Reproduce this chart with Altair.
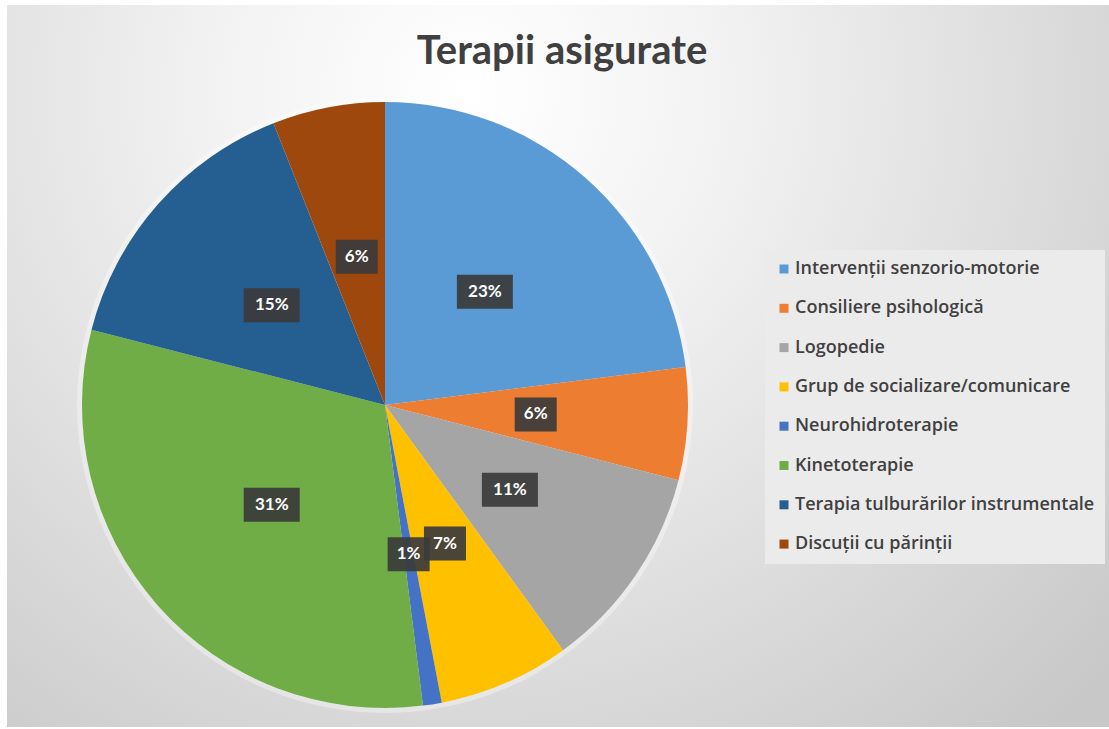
import altair as alt
import pandas as pd

categories = [
    "Intervenții senzorio-motorie",
    "Consiliere psihologică",
    "Logopedie",
    "Grup de socializare/comunicare",
    "Neurohidroterapie",
    "Kinetoterapie",
    "Terapia tulburărilor instrumentale",
    "Discuții cu părinții",
]
values = [23, 6, 11, 7, 1, 31, 15, 6]
colors = ["#5B9BD5", "#ED7D31", "#A5A5A5", "#FFC000", "#4472C4", "#70AD47", "#255E91", "#9E480E"]
title_text = "Terapii asigurate"

df = pd.DataFrame({"cat": categories, "v": values, "idx": list(range(len(values)))})

W, H = 1109, 729
CX, CY, R = 385, 405, 303
LR = 151

bg = alt.Chart(pd.DataFrame({"a": [0]})).mark_rect(
    fill=alt.RadialGradient(
        gradient="radial",
        x1=0.42, y1=0.25, r1=0.0,
        x2=0.42, y2=0.25, r2=0.78,
        stops=[alt.GradientStop(color="#ffffff", offset=0.0),
               alt.GradientStop(color="#f2f2f2", offset=0.3),
               alt.GradientStop(color="#c8c8c8", offset=1.0)],
    )
).encode(x=alt.value(7), x2=alt.value(W), y=alt.value(5), y2=alt.value(727))

glow = alt.Chart(pd.DataFrame({"a": [0]})).mark_arc(
    theta=0, theta2=6.2832, outerRadius=R + 5, color="white", opacity=0.35
).encode(x=alt.value(CX), y=alt.value(CY))

base = alt.Chart(df)

pie = base.mark_arc(outerRadius=R).encode(
    theta=alt.Theta("v:Q", stack=True),
    order=alt.Order("idx:Q"),
    color=alt.Color(
        "cat:N",
        scale=alt.Scale(domain=categories, range=colors),
        sort=categories,
        legend=alt.Legend(
            title=None,
            orient="none",
            legendX=765,
            legendY=250,
            padding=10,
            fillColor="#ebebeb",
            symbolType="square",
            symbolSize=81,
            symbolStrokeWidth=0,
            labelFont="Open Sans",
            labelFontWeight=600,
            labelFontSize=18,
            labelColor="#404040",
            labelLimit=400,
            rowPadding=21.3,
            symbolOffset=0,
            labelOffset=2,
        ),
    ),
    x=alt.value(CX),
    y=alt.value(CY),
)

pos = base.transform_window(
    cum="sum(v)", sort=[alt.SortField("idx")], frame=[None, 0]
).transform_joinaggregate(
    total="sum(v)"
).transform_calculate(
    mid="(datum.cum - datum.v/2) / datum.total * 2 * PI",
    lbl="format(datum.v / datum.total, '.0%')",
).transform_calculate(
    px=f"{CX} + {LR} * sin(datum.mid)",
    py=f"{CY} - {LR} * cos(datum.mid)",
    hw="length(datum.lbl) * 7 + 7",
).transform_calculate(
    x1="datum.px - datum.hw",
    x2="datum.px + datum.hw",
    y1="datum.py - 17",
    y2="datum.py + 17",
)

boxes = pos.mark_rect(color="#3b3b3b", opacity=0.92).encode(
    x=alt.X("x1:Q", scale=None),
    x2="x2:Q",
    y=alt.Y("y1:Q", scale=None),
    y2="y2:Q",
)

labels = pos.mark_text(
    color="white", font="Lato", fontWeight="bold", fontSize=17, baseline="middle", align="center"
).encode(
    x=alt.X("px:Q", scale=None),
    y=alt.Y("py:Q", scale=None),
    text="lbl:N",
)

title = alt.Chart(pd.DataFrame({"t": [title_text]})).mark_text(
    font="Lato", fontSize=40, fontWeight="bold", color="#404040", align="center", baseline="middle"
).encode(x=alt.value(562), y=alt.value(52), text="t:N")

chart = alt.layer(bg, glow, pie, boxes, labels, title).properties(
    width=W, height=H, autosize=alt.AutoSizeParams(type="none"), padding=0, background="white"
).configure_view(stroke=None)

chart.save("out.html", embed_options={"renderer": "svg", "actions": False})
